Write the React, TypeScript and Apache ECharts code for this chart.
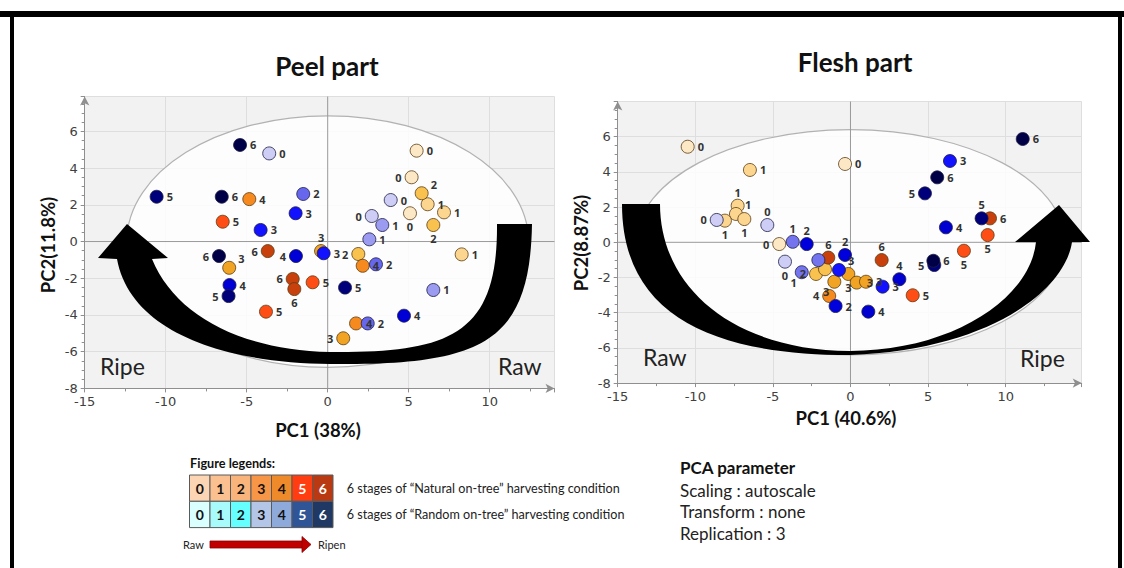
import React, { useEffect, useRef } from "react";
import * as echarts from "echarts";

// ---------------- data ----------------
const stageLabels = ["0", "1", "2", "3", "4", "5", "6"];

// Peel part: [PC1, PC2, stage]
const peelNatural = [
  [5.49, 4.95, 0], [5.18, 3.5, 0], [5.08, 1.54, 0],
  [6.17, 2.03, 1], [7.18, 1.59, 1], [8.27, -0.7, 1],
  [5.8, 2.63, 2], [6.52, 0.9, 2], [1.89, -0.68, 2],
  [-6.08, -1.43, 3], [-0.41, -0.52, 3], [0.96, -5.27, 3],
  [-4.84, 2.31, 4], [2.16, -1.32, 4], [1.75, -4.46, 4],
  [-6.48, 1.08, 5], [-0.93, -2.22, 5], [-3.81, -3.82, 5],
  [-3.7, -0.52, 6], [-2.16, -2.04, 6], [-2.06, -2.59, 6],
];
const peelNaturalSides = ["r", "l", "b", "r", "r", "r", "tr", "b", "l", "tr", "t", "l", "r", "r", "r", "r", "r", "r", "l", "l", "b"];

const peelRandom = [
  [-3.61, 4.8, 0], [3.89, 2.26, 0], [2.72, 1.39, 0],
  [3.37, 0.9, 1], [2.57, 0.12, 1], [6.52, -2.64, 1],
  [-1.51, 2.59, 2], [2.98, -1.24, 2], [2.47, -4.46, 2],
  [-1.98, 1.54, 3], [-4.14, 0.63, 3], [-0.25, -0.64, 3],
  [-1.96, -0.79, 4], [-6.06, -2.37, 4], [4.71, -4.04, 4],
  [-10.56, 2.44, 5], [-6.12, -2.97, 5], [1.07, -2.51, 5],
  [-5.41, 5.26, 6], [-6.54, 2.44, 6], [-6.71, -0.79, 6],
];
const peelRandomSides = ["r", "r", "l", "r", "r", "r", "r", "r", "r", "r", "r", "r", "l", "r", "r", "r", "l", "r", "r", "r", "l"];

// Flesh part: [PC1, PC2, stage]
const fleshNatural = [
  [-10.49, 5.43, 0], [-0.35, 4.45, 0], [-4.59, -0.1, 0],
  [-6.48, 4.11, 1], [-7.27, 2.08, 1], [-7.38, 1.61, 1], [-8.09, 1.23, 1], [-6.84, 1.32, 1],
  [-2.22, -1.8, 2], [-1.64, -1.53, 2],
  [-1.04, -2.24, 3], [-0.14, -1.8, 3], [0.4, -2.29, 3], [1.0, -2.24, 3],
  [-1.37, -3.05, 4],
  [4.01, -3.01, 5], [7.31, -0.48, 5], [8.84, 0.41, 5],
  [-1.43, -0.87, 6], [2.01, -1.01, 6], [8.99, 1.36, 6],
];
const fleshNaturalSides = ["r", "r", "l", "r", "t", "tr", "b", "b", "l", "n", "bl", "b", "r", "r", "l", "r", "b", "b", "t", "t", "r"];

const fleshRandom = [
  [-8.62, 1.27, 0], [-5.36, 0.98, 0], [-4.22, -1.1, 0],
  [-3.72, 0.03, 1], [-3.14, -1.7, 1], [-2.07, -1.01, 1],
  [-2.82, -0.1, 2], [-0.35, -0.72, 2], [-0.96, -3.62, 2],
  [-0.74, -1.57, 3], [2.07, -2.52, 3], [6.41, 4.62, 3],
  [3.15, -2.1, 4], [1.15, -3.94, 4], [6.15, 0.85, 4],
  [5.4, -1.29, 5], [4.8, 2.78, 5], [8.45, 1.36, 5],
  [5.34, -1.05, 6], [11.1, 5.87, 6], [5.59, 3.69, 6],
];
const fleshRandomSides = ["l", "t", "b", "t", "bl", "n", "t", "t", "r", "tr", "r", "r", "t", "r", "r", "l", "l", "t", "r", "r", "r"];

// Hotelling ellipse semi-axes [PC1, PC2]
const peelEllipse = [12.4, 6.85];
const fleshEllipse = [13.8, 6.4];

const titles = ["Peel part", "Flesh part"];
const xTitles = ["PC1 (38%)", "PC1 (40.6%)"];
const yTitles = ["PC2(11.8%)", "PC2(8.87%)"];
const legendTitle = "Figure legends:";
const legendRows = [
  "6 stages of \u201CNatural on-tree\u201D harvesting condition",
  "6 stages of \u201CRandom on-tree\u201D harvesting condition",
];
const pcaTitle = "PCA parameter";
const pcaLines = ["Scaling : autoscale", "Transform : none", "Replication : 3"];

// ---------------- styles ----------------
const naturalColors = ["#fde8c6", "#fcd68f", "#f9c24f", "#f1a323", "#f68a1f", "#ff4e15", "#c8410d"];
const randomColorsPeel = ["#cdcdf5", "#9b9bf1", "#6767ee", "#1212ff", "#0000d6", "#00007a", "#000046"];
const randomColorsFlesh = ["#cdcdf5", "#7474ef", "#0000dc", "#1212ff", "#0000d0", "#00007a", "#000046"];
const legendNatural = ["#fcd5b4", "#fac090", "#f9b47c", "#f79646", "#ef8a2b", "#ff3d10", "#b93a12"];
const legendRandom = ["#d9ffff", "#a8fbfb", "#66ffff", "#b4c6e7", "#8eaadb", "#2f5597", "#1f3864"];

const leftArrowPath =
  "M127 224 L168 258 L152 259 C175 315 240 350 330 352 C450 353 498 335 497 224 L532 224 C530 345 480 365 330 364 C220 363 130 330 117 259 L98 258 Z";
const rightArrowPath =
  "M622 204 L660 204 C660 285 730 350 850 351 C950 351 1030 300 1036 242 L1015 242 L1059 205 L1090 242 L1072 242 C1065 290 990 350 850 355 C720 355 622 320 622 204 Z";

echarts.graphic.registerShape("peelArrow", echarts.graphic.extendPath(leftArrowPath, {}));
echarts.graphic.registerShape("fleshArrow", echarts.graphic.extendPath(rightArrowPath, {}));

const CAL = "Lato, 'Open Sans', sans-serif";

function labelFor(side: string) {
  switch (side) {
    case "l": return { position: "left", distance: 3 };
    case "t": return { position: "top", distance: 1 };
    case "b": return { position: "bottom", distance: 1 };
    case "tr": return { position: "right", distance: 2, offset: [0, -9] };
    case "bl": return { position: "left", distance: 0, offset: [2, 10] };
    case "n": return { show: false };
    default: return { position: "right", distance: 3 };
  }
}

function makePoints(rows: number[][], sides: string[], colors: string[]) {
  return rows.map((r, i) => ({
    value: r,
    itemStyle: { color: colors[r[2]] },
    label: labelFor(sides[i]),
  }));
}

function scatter(gi: number, rows: number[][], sides: string[], colors: string[], border: string) {
  return {
    type: "scatter",
    xAxisIndex: gi,
    yAxisIndex: gi,
    z: 3,
    symbolSize: 13,
    itemStyle: { borderColor: border, borderWidth: 1, opacity: 1 },
    label: {
      show: true,
      formatter: (p: any) => stageLabels[p.value[2]],
      fontSize: 11,
      fontWeight: "bold",
      fontFamily: "'Open Sans', sans-serif",
      color: "#333",
    },
    data: makePoints(rows, sides, colors),
  };
}

function ellipseSeries(gi: number, axes: number[]) {
  return {
    type: "custom",
    xAxisIndex: gi,
    yAxisIndex: gi,
    z: 1,
    silent: true,
    data: [[0, 0]],
    renderItem: (params: any, api: any) => {
      const cs = params.coordSys;
      const c = api.coord([0, 0]);
      const s = api.size([axes[0], axes[1]]);
      return {
        type: "group",
        children: [
          { type: "ellipse", shape: { cx: c[0], cy: c[1], rx: s[0], ry: s[1] }, style: { fill: "rgba(255,255,255,0.85)", stroke: "#b2b2b2", lineWidth: 1.2 } },
          { type: "line", shape: { x1: cs.x, y1: c[1], x2: cs.x + cs.width, y2: c[1] }, style: { stroke: "#9a9a9a", lineWidth: 1 } },
          { type: "line", shape: { x1: c[0], y1: cs.y, x2: c[0], y2: cs.y + cs.height }, style: { stroke: "#9a9a9a", lineWidth: 1 } },
        ],
      };
    },
  };
}

const axisGrey = "#8f8f8f";
function mkX(gi: number, min: number, max: number) {
  return {
    type: "value", gridIndex: gi, min, max, interval: 5,
    axisLine: { show: true, onZero: false, symbol: ["none", "arrow"], symbolSize: [7, 9], lineStyle: { color: axisGrey, width: 1 } },
    axisTick: { show: true, length: 4, lineStyle: { color: axisGrey } },
    minorTick: { show: true, splitNumber: 2, length: 3, lineStyle: { color: axisGrey } },
    axisLabel: { color: "#404040", fontSize: 13, fontFamily: "'DejaVu Sans', sans-serif", margin: 7, showMaxLabel: false },
    splitLine: { show: true, lineStyle: { color: "#dedede", width: 1 } },
  };
}
function mkY(gi: number, min: number, max: number) {
  return {
    type: "value", gridIndex: gi, min, max, interval: 2,
    axisLine: { show: true, onZero: false, symbol: ["none", "arrow"], symbolSize: [7, 9], lineStyle: { color: axisGrey, width: 1 } },
    axisTick: { show: true, length: 4, lineStyle: { color: axisGrey } },
    minorTick: { show: true, splitNumber: 4, length: 3, lineStyle: { color: axisGrey } },
    axisLabel: { color: "#404040", fontSize: 13, fontFamily: "'DejaVu Sans', sans-serif", margin: 7, showMaxLabel: false },
    splitLine: { show: true, lineStyle: { color: "#dedede", width: 1 } },
  };
}

function txt(x: number, y: number, text: string, font: string, extra: any = {}) {
  return {
    type: "text", x, y, z: 20,
    style: { text, font, fill: "#111", align: "left", verticalAlign: "middle", ...extra },
  };
}

function buildGraphic() {
  const els: any[] = [];
  // frame
  els.push({ type: "rect", shape: { x: 0, y: 11, width: 1124, height: 6 }, style: { fill: "#000" }, z: 30 });
  els.push({ type: "rect", shape: { x: 10, y: 11, width: 4, height: 557 }, style: { fill: "#000" }, z: 30 });
  els.push({ type: "rect", shape: { x: 1118, y: 11, width: 4, height: 557 }, style: { fill: "#000" }, z: 30 });
  // arrows
  els.push({ type: "peelArrow", x: 0, y: 0, z: 10, style: { fill: "#000" } });
  els.push({ type: "fleshArrow", x: 0, y: 0, z: 10, style: { fill: "#000" } });
  // titles
  els.push(txt(327, 66, titles[0], `bold 26px ${CAL}`, { align: "center" }));
  els.push(txt(855, 62, titles[1], `bold 26px ${CAL}`, { align: "center" }));
  els.push(txt(318, 430, xTitles[0], `bold 18.5px ${CAL}`, { align: "center" }));
  els.push(txt(846, 418, xTitles[1], `bold 18.5px ${CAL}`, { align: "center" }));
  els.push({ ...txt(48, 245, yTitles[0], `bold 18.5px ${CAL}`, { align: "center" }), rotation: Math.PI / 2 });
  els.push({ ...txt(581, 243, yTitles[1], `bold 18.5px ${CAL}`, { align: "center" }), rotation: Math.PI / 2 });
  // Ripe / Raw
  els.push(txt(100, 366, "Ripe", `23px ${CAL}`, { fill: "#222" }));
  els.push(txt(498, 366, "Raw", `23px ${CAL}`, { fill: "#222" }));
  els.push(txt(643, 357, "Raw", `23px ${CAL}`, { fill: "#222" }));
  els.push(txt(1020, 358, "Ripe", `23px ${CAL}`, { fill: "#222" }));
  // legend
  els.push(txt(190, 463, legendTitle, `bold 12.7px ${CAL}`));
  const x0 = 189.5, cw = 20.5, rh = 26.3, y0 = 475;
  [legendNatural, legendRandom].forEach((row, ri) => {
    row.forEach((c, i) => {
      const x = x0 + i * cw, y = y0 + ri * rh;
      els.push({ type: "rect", z: 20, shape: { x, y, width: cw, height: rh }, style: { fill: c, stroke: "#5a5a5a", lineWidth: 1 } });
      els.push(txt(x + cw / 2, y + rh / 2 + 0.5, stageLabels[i], `bold 14px ${CAL}`, { align: "center", fill: i >= 5 ? "#fff" : "#111" }));
    });
    els.push(txt(346.7, y0 + ri * rh + rh / 2, legendRows[ri], `12.6px ${CAL}`, { fill: "#222" }));
  });
  // raw -> ripen arrow
  els.push(txt(183, 544.5, "Raw", `11px ${CAL}`, { fill: "#222" }));
  els.push({ type: "rect", z: 20, shape: { x: 210, y: 541, width: 94, height: 7 }, style: { fill: "#c00000", stroke: "#8b0000", lineWidth: 0.8 } });
  els.push({ type: "polygon", z: 21, shape: { points: [[302, 536.5], [311, 544.5], [302, 552.5]] }, style: { fill: "#c00000", stroke: "#8b0000", lineWidth: 0.8 } });
  els.push(txt(318, 544.5, "Ripen", `11px ${CAL}`, { fill: "#222" }));
  // PCA parameter block
  els.push(txt(680, 467.5, pcaTitle, `bold 17px ${CAL}`));
  pcaLines.forEach((l, i) => els.push(txt(680, 490 + i * 21.6, l, `17px ${CAL}`, { fill: "#222" })));
  return els;
}

export default function App() {
  const ref = useRef<HTMLDivElement>(null);
  useEffect(() => {
    if (!ref.current) return;
    const chart = echarts.init(ref.current, undefined, { renderer: "svg" });
    const option: any = {
      animation: false,
      backgroundColor: "#fff",
      grid: [
        { left: 84.7, top: 96.5, width: 469.8, height: 291.9, show: true, backgroundColor: "#f2f2f2", borderWidth: 0 },
        { left: 617.7, top: 101.5, width: 464, height: 281.6, show: true, backgroundColor: "#f2f2f2", borderWidth: 0 },
      ],
      xAxis: [mkX(0, -15, 14), mkX(1, -15, 14.9)],
      yAxis: [mkY(0, -8, 7.9), mkY(1, -8, 8)],
      series: [
        ellipseSeries(0, peelEllipse),
        scatter(0, peelNatural, peelNaturalSides, naturalColors, "rgba(90,60,20,0.8)"),
        scatter(0, peelRandom, peelRandomSides, randomColorsPeel, "rgba(30,30,70,0.8)"),
        ellipseSeries(1, fleshEllipse),
        scatter(1, fleshNatural, fleshNaturalSides, naturalColors, "rgba(90,60,20,0.8)"),
        scatter(1, fleshRandom, fleshRandomSides, randomColorsFlesh, "rgba(30,30,70,0.8)"),
      ],
      graphic: { elements: buildGraphic() },
    };
    chart.setOption(option);
    return () => chart.dispose();
  }, []);
  return (
    <div
      ref={ref}
      style={{ position: "fixed", left: 0, top: 0, width: 1124, height: 568, background: "#fff" }}
    />
  );
}
